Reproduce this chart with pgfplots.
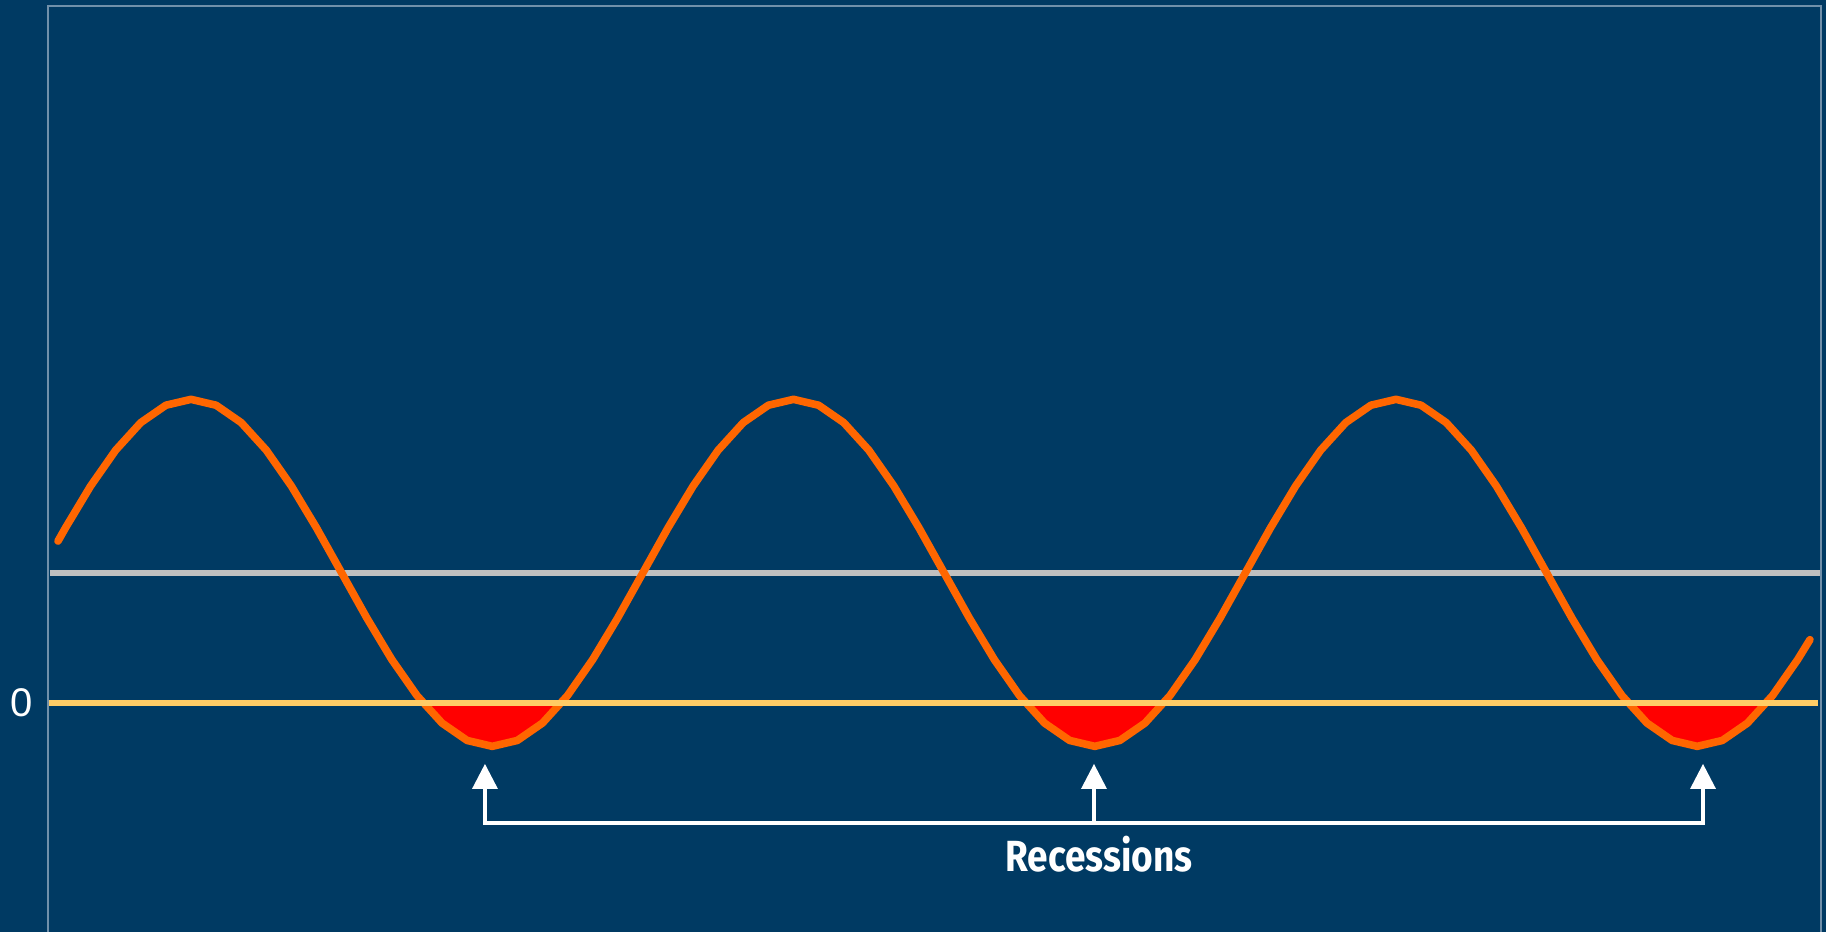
\documentclass[border=0pt]{standalone}
\usepackage{fontspec}
\setmainfont{Liberation Sans}
\newfontfamily\recfont{Fira Sans}
\usepackage{pgfplots}
\usepackage{pgfplotstable}
\pgfplotsset{compat=1.18}
\definecolor{bg}{HTML}{003A63}
\definecolor{framec}{HTML}{7090AA}
\definecolor{curve}{HTML}{FF6600}
\definecolor{zeroc}{HTML}{FFCC66}
\definecolor{meanc}{HTML}{C0C0C0}
\definecolor{recc}{HTML}{FF0000}

\pgfplotstableread{
k v
-5.298 0.933
-5 1.009
-4 1.250
-3 1.457
-2 1.616
-1 1.716
0 1.750
1 1.716
2 1.616
3 1.457
4 1.250
5 1.009
6 0.750
7 0.491
8 0.250
9 0.043
10 -0.116
11 -0.216
12 -0.250
13 -0.216
14 -0.116
15 0.043
16 0.250
17 0.491
18 0.750
19 1.009
20 1.250
21 1.457
22 1.616
23 1.716
24 1.750
25 1.716
26 1.616
27 1.457
28 1.250
29 1.009
30 0.750
31 0.491
32 0.250
33 0.043
34 -0.116
35 -0.216
36 -0.250
37 -0.216
38 -0.116
39 0.043
40 0.250
41 0.491
42 0.750
43 1.009
44 1.250
45 1.457
46 1.616
47 1.716
48 1.750
49 1.716
50 1.616
51 1.457
52 1.250
53 1.009
54 0.750
55 0.491
56 0.250
57 0.043
58 -0.116
59 -0.216
60 -0.250
61 -0.216
62 -0.116
63 0.043
64 0.250
64.49 0.365
}\cycledata

\begin{document}
\begin{tikzpicture}
\fill[bg] (-12pt,0pt) rectangle (444.5pt,233pt);
\useasboundingbox (-12pt,0pt) rectangle (444.5pt,233pt);
\begin{axis}[
  at={(0pt,0pt)}, anchor=south west,
  scale only axis, width=443.25pt, height=231.5pt,
  xmin=-5.696, xmax=64.93,
  ymin=-1.32, ymax=4.017,
  clip=false,
  axis line style={draw=none},
  xtick=\empty,
  ytick={0}, yticklabels={0},
  major tick length=0pt,
  yticklabel style={text=white, font=\fontsize{10}{12}\selectfont, inner sep=0pt, anchor=east, xshift=-3.6pt},
]
% frame (left, top, right)
\draw[framec, line width=0.4pt] (rel axis cs:0,0) -- (rel axis cs:0,1) -- (rel axis cs:1,1) -- (rel axis cs:1,0);
% trend line
\addplot[meanc, line width=1.55pt, line cap=butt] coordinates {(-5.617,0.75) (64.89,0.75)};
% recession areas
\addplot[fill=recc, draw=none] coordinates {(9.239,0) (10,-0.116) (11,-0.216) (12,-0.25) (13,-0.216) (14,-0.116) (14.761,0)} -- cycle;
\addplot[fill=recc, draw=none] coordinates {(33.239,0) (34,-0.116) (35,-0.216) (36,-0.25) (37,-0.216) (38,-0.116) (38.761,0)} -- cycle;
\addplot[fill=recc, draw=none] coordinates {(57.239,0) (58,-0.116) (59,-0.216) (60,-0.25) (61,-0.216) (62,-0.116) (62.761,0)} -- cycle;
% business cycle
\addplot[curve, line width=1.9pt, line cap=round, line join=round] table[x=k, y=v] {\cycledata};
% zero line
\addplot[zeroc, line width=1.45pt, line cap=butt] coordinates {(-5.657,0) (64.8,0)};
% recession arrows
\draw[white, line width=0.9pt, line join=miter]
  (axis cs:11.71,-0.4957) -- (axis cs:11.71,-0.6916) -- (axis cs:60.23,-0.6916) -- (axis cs:60.23,-0.4957);
\draw[white, line width=0.9pt] (axis cs:35.97,-0.6916) -- (axis cs:35.97,-0.4957);
\fill[white] (axis cs:11.192,-0.4957) -- (axis cs:12.228,-0.4957) -- (axis cs:11.71,-0.3516) -- cycle;
\fill[white] (axis cs:35.452,-0.4957) -- (axis cs:36.488,-0.4957) -- (axis cs:35.97,-0.3516) -- cycle;
\fill[white] (axis cs:59.712,-0.4957) -- (axis cs:60.748,-0.4957) -- (axis cs:60.23,-0.3516) -- cycle;
\node[anchor=base, text=white, inner sep=0pt, xscale=0.85, font=\recfont\bfseries\fontsize{10.9}{13}\selectfont] at (axis cs:36.17,-0.974) {Recessions};
\end{axis}
\end{tikzpicture}
\end{document}
